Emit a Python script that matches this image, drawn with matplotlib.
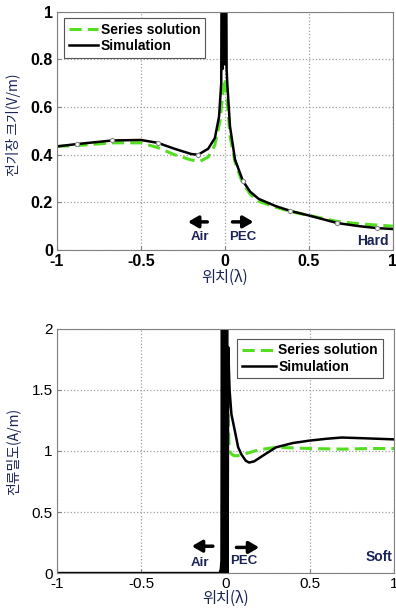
import numpy as np
import matplotlib.pyplot as plt

plt.rcParams['path.simplify'] = False

# ---- data ----
# top panel: E-field magnitude, hard surface
x_series_top = [-1.0, -0.85, -0.67, -0.5, -0.4, -0.3, -0.2, -0.15, -0.1, -0.06, -0.03,
                -0.012, 0.0, 0.012, 0.03, 0.06, 0.1, 0.15, 0.2, 0.3, 0.4, 0.5, 0.67, 0.8, 1.0]
y_series_top = [0.435, 0.44, 0.45, 0.45, 0.43, 0.40, 0.378, 0.372, 0.39, 0.44, 0.54,
                0.66, 0.72, 0.64, 0.48, 0.37, 0.29, 0.235, 0.205, 0.18, 0.16, 0.145, 0.12, 0.11, 0.10]

x_sim_top = [-1.0, -0.88, -0.67, -0.5, -0.4, -0.3, -0.2, -0.16, -0.1, -0.06, -0.035,
             -0.022, -0.018, -0.014, -0.01, -0.006, -0.002, 0.002, 0.006, 0.01, 0.014,
             0.03, 0.06, 0.107, 0.15, 0.2, 0.3, 0.39, 0.5, 0.67, 0.8, 0.905, 1.0]
y_sim_top = [0.435, 0.445, 0.46, 0.462, 0.45, 0.425, 0.403, 0.40, 0.425, 0.47, 0.56,
             0.7, 1.5, 0.76, 1.5, 0.78, 1.5, 0.78, 1.5, 0.76, 0.7,
             0.52, 0.38, 0.29, 0.245, 0.215, 0.185, 0.164, 0.145, 0.113, 0.10, 0.092, 0.088]

mark_x_top = [-0.88, -0.67, -0.4, -0.16, 0.107, 0.39, 0.67, 0.905]
mark_y_top = [0.445, 0.46, 0.45, 0.40, 0.29, 0.164, 0.113, 0.092]

# bottom panel: current density, soft surface
x_series_bot = [0.015, 0.017, 0.02, 0.025, 0.035, 0.05, 0.065, 0.1, 0.15, 0.2, 0.3, 0.4, 0.5,
                0.7, 0.85, 1.0]
y_series_bot = [1.45, 1.25, 1.07, 1.0, 0.975, 0.962, 0.96, 0.97, 0.99, 1.01, 1.03, 1.025, 1.02,
                1.015, 1.02, 1.02]

x_sim_bot = [-1.0, -0.5, -0.035, -0.028, -0.024, -0.021, -0.018, -0.015, -0.012, -0.009,
             -0.006, -0.003, 0.0, 0.003, 0.006, 0.009, 0.012, 0.016, 0.024, 0.035, 0.053,
             0.075, 0.095, 0.12, 0.14, 0.17, 0.22, 0.3, 0.4, 0.5, 0.6, 0.69, 0.8, 0.9, 1.0]
y_sim_bot = [0.0, 0.0, 0.0, 0.03, 0.1, 2.5, 0.0, 2.5, 0.0, 2.5,
             0.0, 2.5, 0.0, 2.5, 0.0, 2.5, 0.0, 1.85, 1.5, 1.3, 1.18,
             1.03, 0.97, 0.92, 0.905, 0.915, 0.96, 1.03, 1.065, 1.085, 1.1, 1.11, 1.105, 1.1, 1.095]

x_ticks = [-1, -0.5, 0, 0.5, 1]
x_tick_labels = ['-1', '-0.5', '0', '0.5', '1']
y_ticks_top = [0, 0.2, 0.4, 0.6, 0.8, 1]
y_tick_labels_top = ['0', '0.2', '0.4', '0.6', '0.8', '1']
y_ticks_bot = [0, 0.5, 1, 1.5, 2]
y_tick_labels_bot = ['0', '0.5', '1', '1.5', '2']

navy = '#1b2456'
green = '#55dd22'
kfont = ['Noto Sans CJK KR', 'DejaVu Sans']

fig = plt.figure(figsize=(3.96, 6.09), dpi=100)
ax1 = fig.add_axes([0.144, 0.5895, 0.848, 0.391])
ax2 = fig.add_axes([0.144, 0.059, 0.851, 0.401])

for ax in (ax1, ax2):
    ax.set_xlim(-1, 1)
    ax.grid(True, linestyle=':', color='#a0a0a0', linewidth=0.9)
    ax.set_axisbelow(True)
    for s in ax.spines.values():
        s.set_color('#808080')
    ax.tick_params(direction='in', length=3, color='#808080', pad=3)
    ax.set_xticks(x_ticks)

# ---- top ----
ax1.plot(x_series_top, y_series_top, '--', color=green, lw=2.2, dashes=(4, 2),
         label='Series solution')
ax1.plot(x_sim_top, y_sim_top, '-', color='black', lw=1.8, label='Simulation')
ax1.plot(mark_x_top, mark_y_top, 'o', ms=3, mfc='white', mec='#888888', mew=0.8)
ax1.set_ylim(0, 1)
ax1.set_yticks(y_ticks_top)
ax1.set_xticklabels(x_tick_labels, fontsize=11.5, fontweight='bold', family='Liberation Sans')
ax1.set_yticklabels(y_tick_labels_top, fontsize=11.5, fontweight='bold', family='Liberation Sans')
leg = ax1.legend(loc='upper left', bbox_to_anchor=(0.02, 0.975), fancybox=False,
                 edgecolor='#555555', framealpha=1, handlelength=2.1, borderpad=0.35,
                 labelspacing=0.15, handletextpad=0.2, borderaxespad=0,
                 prop={'family': 'Liberation Sans', 'weight': 'bold', 'size': 10})
leg.get_frame().set_linewidth(0.8)
ax1.set_ylabel('전기장 크기(V/m)', family=kfont, fontsize=10, color=navy)
ax1.set_xlabel('위치(λ)', family=kfont, fontsize=11, fontweight='medium', color=navy,
               labelpad=0)
ax1.yaxis.set_label_coords(-0.107, 0.527)

arrow = dict(arrowstyle='-|>,head_width=0.35,head_length=0.6', lw=2.5, color='black',
             shrinkA=0, shrinkB=0)
ax1.annotate('', xy=(-0.22, 0.118), xytext=(-0.105, 0.118), arrowprops=arrow)
ax1.annotate('', xy=(0.17, 0.118), xytext=(0.045, 0.118), arrowprops=arrow)
ax1.text(-0.15, 0.055, 'Air', ha='center', va='center', fontsize=9.5, fontweight='bold',
         color=navy, family='Liberation Sans')
ax1.text(0.107, 0.055, 'PEC', ha='center', va='center', fontsize=9.5, fontweight='bold',
         color=navy, family='Liberation Sans')
ax1.text(0.88, 0.038, 'Hard', ha='center', va='center', fontsize=10, fontweight='bold',
         color=navy, family='Liberation Sans')

# ---- bottom ----
ax2.plot(x_series_bot, y_series_bot, '--', color=green, lw=2.2, dashes=(4, 2),
         label='Series solution')
ax2.plot(x_sim_bot, y_sim_bot, '-', color='black', lw=1.8, label='Simulation')
ax2.set_ylim(0, 2)
ax2.set_yticks(y_ticks_bot)
ax2.set_xticklabels(x_tick_labels, fontsize=11, family='Liberation Sans')
ax2.set_yticklabels(y_tick_labels_bot, fontsize=11, family='Liberation Sans')
leg2 = ax2.legend(loc='upper left', bbox_to_anchor=(0.535, 0.96), fancybox=False,
                  edgecolor='#555555', framealpha=1, handlelength=2.4, borderpad=0.35,
                  labelspacing=0.15, handletextpad=0.2, borderaxespad=0,
                  prop={'family': 'Liberation Sans', 'weight': 'bold', 'size': 10})
leg2.get_frame().set_linewidth(0.8)
ax2.set_ylabel('전류밀도(A/m)', family=kfont, fontsize=10, color=navy)
ax2.set_xlabel('위치(λ)', family=kfont, fontsize=11, fontweight='medium', color=navy,
               labelpad=-1)
ax2.yaxis.set_label_coords(-0.107, 0.5)

ax2.annotate('', xy=(-0.2, 0.22), xytext=(-0.075, 0.22), arrowprops=arrow)
ax2.annotate('', xy=(0.2, 0.21), xytext=(0.065, 0.21), arrowprops=arrow)
ax2.text(-0.15, 0.08, 'Air', ha='center', va='center', fontsize=9.5, fontweight='bold',
         color=navy, family='Liberation Sans')
ax2.text(0.11, 0.10, 'PEC', ha='center', va='center', fontsize=9.5, fontweight='bold',
         color=navy, family='Liberation Sans')
ax2.text(0.91, 0.13, 'Soft', ha='center', va='center', fontsize=10, fontweight='bold',
         color=navy, family='Liberation Sans')

fig.savefig('out.png', dpi=100)
